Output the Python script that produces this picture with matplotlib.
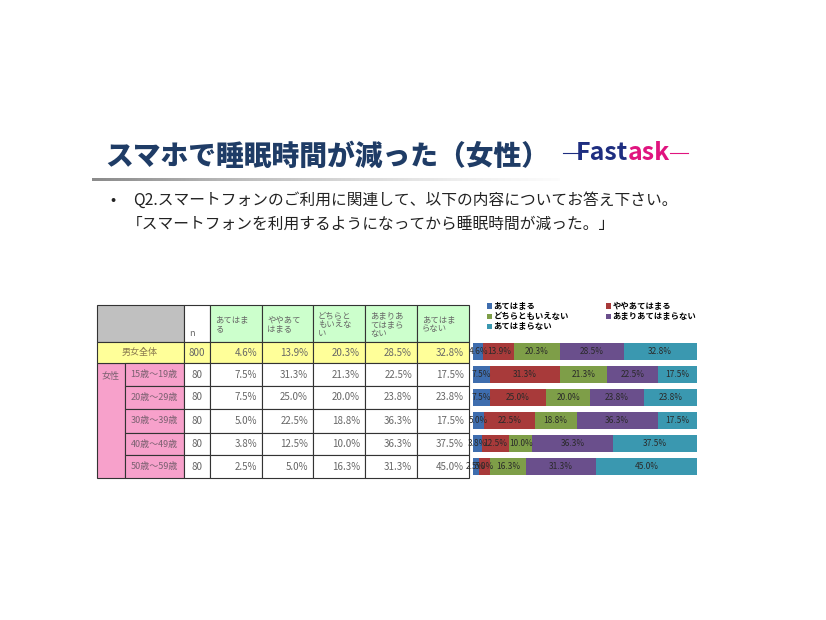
import numpy as np
import matplotlib
matplotlib.use("Agg")
import matplotlib.pyplot as plt
from matplotlib.patches import Rectangle

plt.rcParams["font.family"] = ["Noto Sans CJK JP", "DejaVu Sans"]

# ---- data ----
answers = ["あてはまる", "ややあてはまる", "どちらともいえない", "あまりあてはまらない", "あてはまらない"]
answer_headers = ["あてはま\nる", "ややあて\nはまる", "どちらと\nもいえな\nい", "あまりあ\nてはまら\nない", "あてはま\nらない"]
row_labels = ["男女全体", "15歳～19歳", "20歳～29歳", "30歳～39歳", "40歳～49歳", "50歳～59歳"]
n_values = [800, 80, 80, 80, 80, 80]
atehamaru = [4.6, 7.5, 7.5, 5.0, 3.8, 2.5]
yaya = [13.9, 31.3, 25.0, 22.5, 12.5, 5.0]
dochira = [20.3, 21.3, 20.0, 18.8, 10.0, 16.3]
amari = [28.5, 22.5, 23.8, 36.3, 36.3, 31.3]
atehamaranai = [32.8, 17.5, 23.8, 17.5, 37.5, 45.0]
series = [atehamaru, yaya, dochira, amari, atehamaranai]
colors = ["#3E6DAE", "#A83A3A", "#7E9E48", "#6A4F8C", "#3A98B0"]

W, H = 826, 620
fig = plt.figure(figsize=(W / 100, H / 100), dpi=100)
bg = fig.add_axes([0, 0, 1, 1])
bg.set_xlim(0, W)
bg.set_ylim(H, 0)
bg.axis("off")

# ---- title + logo ----
bg.text(105, 157, "スマホで睡眠時間が減った（女性）", fontsize=20, fontweight="black",
        color="#1F3C66", va="center", ha="left")
bg.text(628, 153, "Fast", fontsize=18, fontweight="bold", color="#1E2E80", ha="right", va="center")
bg.text(628, 153, "ask", fontsize=18, fontweight="bold", color="#E0147F", ha="left", va="center")
bg.plot([563, 578], [153, 153], color="#1E2E80", lw=0.8)
bg.plot([670, 688], [153, 153], color="#E0147F", lw=0.8)

# gradient rule under title
grad = np.linspace(0, 1, 256).reshape(1, -1)
bg.imshow(grad, cmap="Greys_r", vmin=-0.9, vmax=1.05, extent=[92, 560, 181, 178], aspect="auto")

# ---- question ----
bg.text(113, 200, "•", fontsize=11, color="#222222", va="center", ha="center")
bg.text(133, 200, "Q2.スマートフォンのご利用に関連して、以下の内容についてお答え下さい。",
        fontsize=11.3, color="#222222", va="center", ha="left")
bg.text(127, 224, "「スマートフォンを利用するようになってから睡眠時間が減った。」",
        fontsize=11.3, color="#222222", va="center", ha="left")

# ---- table ----
col_edges = [97, 125, 184, 210, 262, 313, 365, 417, 469]
row_edges = [305, 342, 363, 386, 409, 433, 455, 478]
edge = "#333333"
txt = "#666666"


def cell(x0, x1, y0, y1, fc):
    bg.add_patch(Rectangle((x0, y0), x1 - x0, y1 - y0, facecolor=fc, edgecolor=edge, lw=0.8))


# header row
cell(col_edges[0], col_edges[2], row_edges[0], row_edges[1], "#C0C0C0")
cell(col_edges[2], col_edges[3], row_edges[0], row_edges[1], "white")
bg.text(192, 333, "n", fontsize=6.5, color=txt, va="center", ha="center")
for j, h in enumerate(answer_headers):
    x0, x1 = col_edges[3 + j], col_edges[4 + j]
    cell(x0, x1, row_edges[0], row_edges[1], "#CCFFCC")
    bg.text(x0 + 5, (row_edges[0] + row_edges[1]) / 2 + 1, h, fontsize=6, color=txt,
            va="center", ha="left", linespacing=1.0)

# 女性 merged cell
cell(col_edges[0], col_edges[1], row_edges[2], row_edges[-1], "#F7A1CB")
bg.text(111, 376, "女性", fontsize=6.5, color="#7a6070", va="center", ha="center")

for i, lab in enumerate(row_labels):
    y0, y1 = row_edges[1 + i], row_edges[2 + i]
    yc = (y0 + y1) / 2
    if i == 0:
        fc = "#FFFF99"
        cell(col_edges[0], col_edges[2], y0, y1, fc)
        bg.text(140, yc, lab, fontsize=6.5, color="#8a7a50", va="center", ha="center")
    else:
        fc = "white"
        cell(col_edges[1], col_edges[2], y0, y1, "#F7A1CB")
        bg.text(154, yc, lab, fontsize=6.5, color="#7a6070", va="center", ha="center")
    cell(col_edges[2], col_edges[3], y0, y1, fc)
    bg.text(197, yc, str(n_values[i]), fontsize=7, color=txt, va="center", ha="center")
    for j, s in enumerate(series):
        x0, x1 = col_edges[3 + j], col_edges[4 + j]
        cell(x0, x1, y0, y1, fc)
        bg.text(x1 - 5, yc, f"{s[i]:.1f}%", fontsize=7, color=txt, va="center", ha="right")

# ---- stacked bar chart ----
ax = fig.add_axes([473 / W, 1 - 478 / H, 224 / W, 138 / H])
ypos = np.arange(len(row_labels))
left = np.zeros(len(row_labels))
handles = []
for s, c, name in zip(series, colors, answers):
    vals = np.array(s)
    b = ax.barh(ypos, vals, left=left, height=0.74, color=c, label=name)
    handles.append(b)
    for y, v, l in zip(ypos, vals, left):
        ax.text(l + v / 2, y, f"{v:.1f}%", fontsize=6, color="#2a2a2a", ha="center", va="center")
    left += vals
ax.set_xlim(0, 100.1)
ax.set_ylim(len(row_labels) - 0.5, -0.5)
ax.axis("off")

order = [0, 2, 4, 1, 3]
fig.legend([handles[k] for k in order], [answers[k] for k in order], ncol=2,
           loc="upper left", bbox_to_anchor=(487 / W, 1 - 302 / H), frameon=False,
           prop={"size": 6, "weight": "bold"}, borderpad=0, borderaxespad=0,
           labelspacing=0.15, handlelength=0.6, handleheight=0.6, handletextpad=0.2,
           columnspacing=4.4)

fig.savefig("out.png", dpi=100)
